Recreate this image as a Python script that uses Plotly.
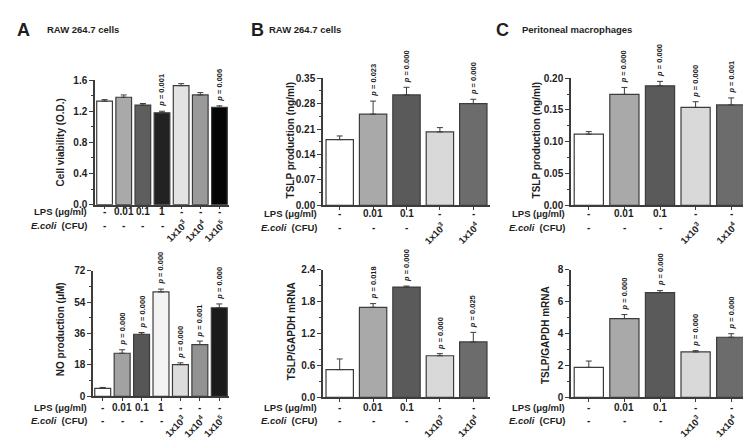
import plotly.graph_objects as go

W, H = 751, 441
FONT = "Liberation Sans, Arial, sans-serif"
INK = "#1e1e1e"
EDGE = "#3c3c3c"

# x-axis row labels
lps_a = ["-", "0.01", "0.1", "1", "-", "-", "-"]
ecoli_a = ["-", "-", "-", "-", "1x10<sup>3</sup>", "1x10<sup>4</sup>", "1x10<sup>5</sup>"]
lps_bc = ["-", "0.01", "0.1", "-", "-"]
ecoli_bc = ["-", "-", "-", "1x10<sup>3</sup>", "1x10<sup>4</sup>"]

# A top: cell viability
via_a = [1.33, 1.38, 1.28, 1.18, 1.53, 1.41, 1.25]
via_a_err = [0.02, 0.03, 0.02, 0.02, 0.025, 0.03, 0.02]
via_a_p = [None, None, None, "0.001", None, None, "0.006"]

# A bottom: NO production
no_a = [4.6, 24.7, 35.6, 59.9, 18.2, 29.7, 50.8]
no_a_err = [0.5, 2.0, 1.0, 1.6, 1.0, 2.0, 2.2]
no_a_p = [None, "0.000", "0.000", "0.000", "0.000", "0.001", "0.000"]

# B: RAW 264.7 cells
tslp_b = [0.181, 0.251, 0.304, 0.202, 0.280]
tslp_b_err = [0.010, 0.036, 0.021, 0.012, 0.012]
tslp_b_p = [None, "0.023", "0.000", None, "0.000"]
mrna_b = [0.52, 1.69, 2.07, 0.78, 1.04]
mrna_b_err = [0.20, 0.07, 0.02, 0.04, 0.18]
mrna_b_p = [None, "0.018", "0.000", "0.000", "0.025"]

# C: peritoneal macrophages
tslp_c = [0.112, 0.1745, 0.188, 0.154, 0.158]
tslp_c_err = [0.004, 0.011, 0.007, 0.009, 0.011]
tslp_c_p = [None, "0.000", "0.000", "0.000", "0.001"]
mrna_c = [1.87, 4.93, 6.56, 2.84, 3.76]
mrna_c_err = [0.40, 0.25, 0.12, 0.08, 0.22]
mrna_c_p = [None, "0.000", "0.000", "0.000", "0.000"]

cols_a_top = ["#ffffff", "#a9a9a9", "#5e5e5e", "#222222", "#e3e3e3", "#9a9a9a", "#050505"]
cols_a_bot = ["#ffffff", "#a2a2a2", "#565656", "#f3f3f3", "#dcdcdc", "#929292", "#1a1a1a"]
cols_bc = ["#ffffff", "#a9a9a9", "#5a5a5a", "#d9d9d9", "#6c6c6c"]

fig = go.Figure()
annotations = []


def px(v):
    return v / W


def py(v):
    return 1 - v / H


def txt(text, x, y, size=10, **kw):
    d = dict(text=text, x=x, y=y, showarrow=False, borderpad=0,
             font=dict(family=FONT, size=size, color=INK, weight="bold"))
    d.update(kw)
    annotations.append(d)


def panel(n, values, errors, colors, pvals, lps, ecoli, box, ymax, dtick, fmt,
          ytitle, title_pos, rows, label_x):
    key = "" if n == 1 else str(n)
    xa, ya = "x" + key, "y" + key
    x0, x1, y0, y1 = box
    cats = list(range(len(values)))
    fig.add_trace(go.Bar(
        x=cats, y=values, xaxis=xa, yaxis=ya, width=0.82, showlegend=False,
        marker=dict(color=colors, line=dict(color=EDGE, width=1.2)),
        error_y=dict(type="data", symmetric=False, array=errors,
                     arrayminus=[0] * len(errors), color=EDGE, thickness=1, width=3),
    ))
    fig.layout["xaxis" + key] = dict(
        domain=[px(x0), px(x1)], anchor=ya, range=[-0.5, len(values) - 0.5],
        showline=True, linecolor=EDGE, linewidth=1.5, ticks="outside", ticklen=3,
        tickcolor=EDGE, tickvals=cats, showticklabels=False, showgrid=False,
        zeroline=False)
    fig.layout["yaxis" + key] = dict(
        domain=[py(y1), py(y0)], anchor=xa, range=[0, ymax], tick0=0, dtick=dtick,
        tickformat=fmt, showline=True, linecolor=EDGE, linewidth=1.5,
        ticks="outside", ticklen=4, tickcolor=EDGE, showgrid=False, zeroline=False,
        tickfont=dict(family=FONT, size=10, color=INK, weight="bold"),
        minor=dict(ticks="outside", ticklen=2, dtick=dtick / 2, tick0=0, tickcolor=EDGE))
    # p values above the error bars
    for i, p in enumerate(pvals):
        if p:
            txt("<i>p</i> = " + p, i, values[i] + errors[i], size=7.5, xref=xa, yref=ya,
                textangle=-90, xanchor="center", yanchor="bottom", yshift=3)
    # x-axis rows
    r1, r2 = rows
    txt("LPS (μg/ml)", px(label_x), py(r1), size=9.5, xref="paper", yref="paper",
        xanchor="right", yanchor="middle")
    txt("<i>E.coli</i>  (CFU)", px(label_x), py(r2), size=9.5, xref="paper", yref="paper",
        xanchor="right", yanchor="middle")
    for i in cats:
        txt(lps[i], i, py(r1), xref=xa, yref="paper", xanchor="center", yanchor="middle")
        if ecoli[i] == "-":
            txt("-", i, py(r2), xref=xa, yref="paper", xanchor="center", yanchor="middle")
        else:
            txt(ecoli[i], i, py(r2 + 6), size=9.5, xref=xa, yref="paper", textangle=-45,
                xanchor="center", yanchor="middle", xshift=-5)
    tx, ty = title_pos
    txt(ytitle, px(tx), py(ty), xref="paper", yref="paper", textangle=-90,
        xanchor="center", yanchor="middle")


panel(1, via_a, via_a_err, cols_a_top, via_a_p, lps_a, ecoli_a,
      (87, 221, 68, 196), 1.6, 0.4, ".1f", "Cell viability (O.D.)", (52, 132),
      (203, 217), 80)
panel(2, no_a, no_a_err, cols_a_bot, no_a_p, lps_a, ecoli_a,
      (85, 221, 264, 393), 72, 18, "d", "NO production (μM)", (52, 324),
      (404, 418), 80)
panel(3, tslp_b, tslp_b_err, cols_bc, tslp_b_p, lps_bc, ecoli_bc,
      (315, 482, 66, 196.7), 0.35, 0.07, ".2f", "TSLP production (ng/ml)", (282, 130),
      (205, 219), 310)
panel(4, mrna_b, mrna_b_err, cols_bc, mrna_b_p, lps_bc, ecoli_bc,
      (315, 482, 262.7, 394), 2.4, 0.6, ".1f", "TSLP/GAPDH mRNA", (283, 326),
      (404, 418), 310)
panel(5, tslp_c, tslp_c_err, cols_bc, tslp_c_p, lps_bc, ecoli_bc,
      (563, 741, 66, 196.7), 0.20, 0.05, ".2f", "TSLP production (ng/ml)", (528, 130),
      (205, 219), 558)
panel(6, mrna_c, mrna_c_err, cols_bc, mrna_c_p, lps_bc, ecoli_bc,
      (563, 741, 262.7, 394), 8, 2, "d", "TSLP/GAPDH mRNA", (537, 330),
      (404, 418), 558)

# panel letters and headers
for letter, lx, head, hx in [("A", 8, "RAW 264.7 cells", 38),
                             ("B", 242, "RAW 264.7 cells", 260),
                             ("C", 487, "Peritoneal macrophages", 513)]:
    txt(letter, px(lx), py(16), size=18, xref="paper", yref="paper",
        xanchor="left", yanchor="middle")
    txt(head, px(hx), py(16), size=9.5, xref="paper", yref="paper",
        xanchor="left", yanchor="middle")

fig.update_layout(
    width=W, height=H, autosize=False,
    margin=dict(l=0, r=0, t=0, b=0),
    paper_bgcolor="white", plot_bgcolor="white",
    font=dict(family=FONT, color=INK),
    annotations=annotations,
)

fig.write_html("out.html")
